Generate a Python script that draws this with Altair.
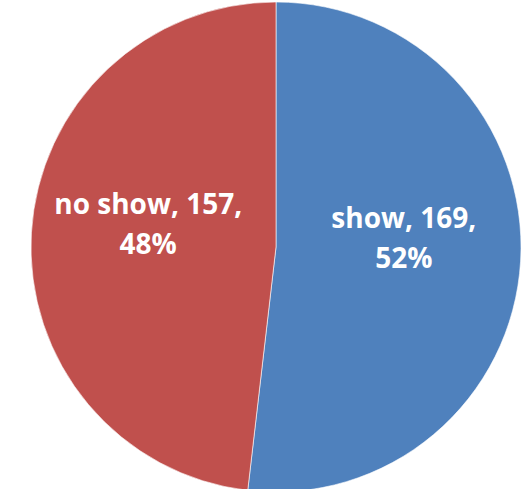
import altair as alt
import pandas as pd

categories = ["show", "no show"]
counts = [169, 157]
percents = ["52%", "48%"]
colors = ["#4F81BD", "#C0504D"]

df = pd.DataFrame({
    "category": categories,
    "count": counts,
    "order": [0, 1],
    "label": [[f"{c}, {n},", p] for c, n, p in zip(categories, counts, percents)],
})

base = alt.Chart(df).encode(
    theta=alt.Theta("count:Q", stack=True),
    order=alt.Order("order:Q"),
)

pie = base.mark_arc(stroke="#ffffff", strokeWidth=0.6).encode(
    color=alt.Color("category:N",
                    scale=alt.Scale(domain=categories, range=colors),
                    legend=None),
    x=alt.value(276),
    y=alt.value(247),
    radius=alt.value(245),
)

labels = base.mark_text(
    radius=128,
    dy=-34,
    font="Open Sans",
    fontWeight="bold",
    fontSize=28,
    lineHeight=40,
    color="#ffffff",
    align="center",
    baseline="middle",
).encode(
    text="label",
    x=alt.value(276),
    y=alt.value(247),
)

chart = (pie + labels).properties(
    width=524,
    height=489,
    autosize=alt.AutoSizeParams(type="none"),
    padding=0,
    background="#ffffff",
).configure_view(stroke=None)

chart.save("out.html", embed_options={"renderer": "svg", "actions": False})
